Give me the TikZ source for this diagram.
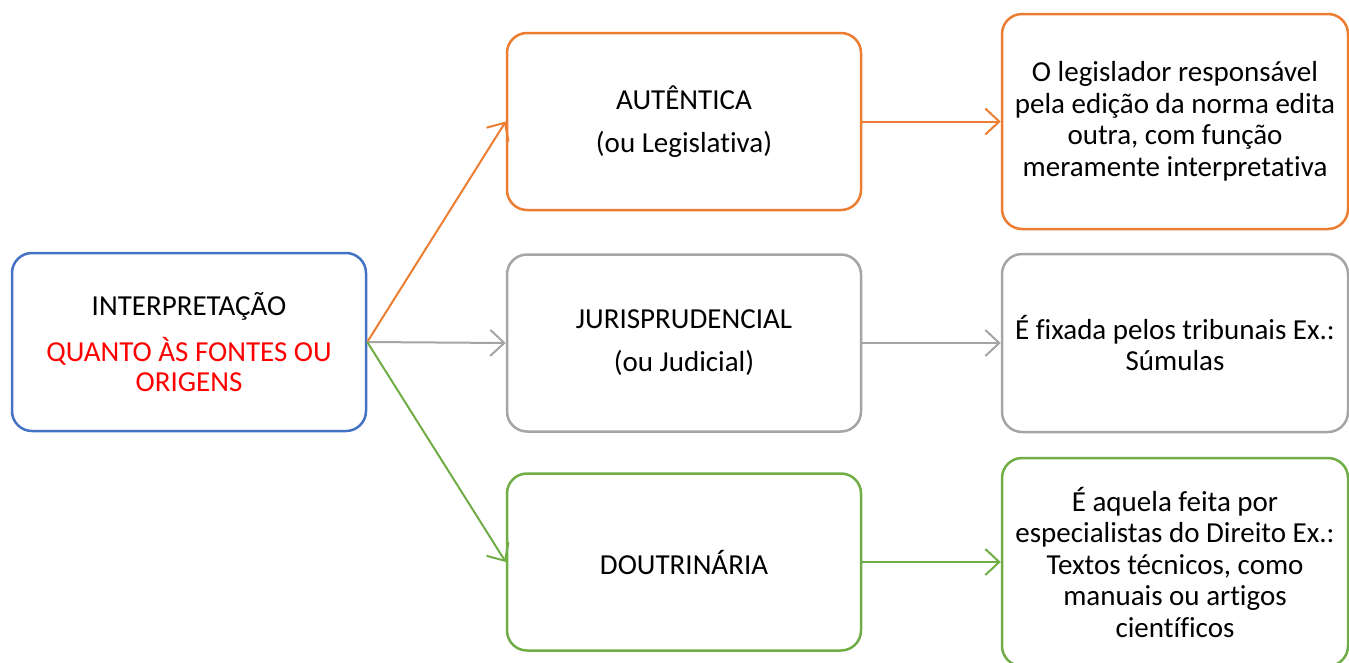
\documentclass[tikz,border=0pt]{standalone}
\usepackage{fontspec}
\setmainfont{Carlito}[Ligatures=NoCommon]
\usetikzlibrary{arrows.meta}
\definecolor{cblue}{HTML}{4472C4}
\definecolor{corange}{HTML}{ED7D31}
\definecolor{cgray}{HTML}{A5A5A5}
\definecolor{cgreen}{HTML}{70AD47}
\definecolor{cred}{HTML}{FF0000}
\tikzset{
  box/.style={draw, line width=2.5pt, rounded corners=20pt, fill=white, align=center,
    inner sep=0pt, font=\fontsize{29}{31.5}\selectfont},
  midbox/.style={box, minimum width=354pt, minimum height=177pt},
  rbox/.style={box, minimum width=346pt},
  conn/.style={line width=2pt, -{Straight Barb[length=14pt,width=26pt,line width=2pt]}}
}
\begin{document}
\begin{tikzpicture}[x=1pt,y=-1pt]
\useasboundingbox (0,0) rectangle (1349,662);
\node[midbox, draw=cblue, minimum height=178pt] (root) at (189,342)
  {INTERPRETAÇÃO\\[14.5pt]\textcolor{cred}{QUANTO ÀS FONTES OU}\\[-1.5pt]\textcolor{cred}{ORIGENS}};
\node[midbox, draw=corange] (aut) at (684,121.5) {AUTÊNTICA\\[11.5pt](ou Legislativa)};
\node[midbox, draw=cgray] (jur) at (684,343) {JURISPRUDENCIAL\\[11.5pt](ou Judicial)};
\node[midbox, draw=cgreen] (dou) at (684,562) {DOUTRINÁRIA};
\node[rbox, draw=corange, minimum height=215pt] (raut) at (1175,121.5)
  {O legislador responsável\\pela edição da norma edita\\outra, com função\\meramente interpretativa};
\node[rbox, draw=cgray, minimum height=178pt] (rjur) at (1175,343)
  {É fixada pelos tribunais Ex.:\\Súmulas};
\node[rbox, draw=cgreen, minimum height=208pt] (rdou) at (1175,562)
  {É aquela feita por\\especialistas do Direito Ex.:\\Textos técnicos, como\\manuais ou artigos\\científicos};
\draw[conn, corange] (root.east) -- (aut.west);
\draw[conn, cgray] (root.east) -- (jur.west);
\draw[conn, cgreen] (root.east) -- (dou.west);
\draw[conn, corange] (aut.east) -- (raut.west);
\draw[conn, cgray] (jur.east) -- (rjur.west);
\draw[conn, cgreen] (dou.east) -- (rdou.west);
\end{tikzpicture}
\end{document}
